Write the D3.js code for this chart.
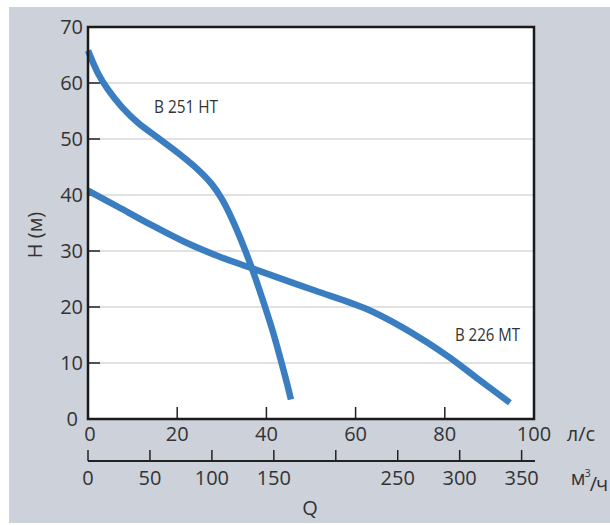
<!DOCTYPE html>
<html>
<head>
<meta charset="utf-8">
<script src="https://cdn.jsdelivr.net/npm/d3@7"></script>
<style>
  body { margin: 0; background: #fff; }
  text { font-family: "Open Sans", sans-serif; fill: #333; }
</style>
</head>
<body>
<svg id="chart" width="610" height="525"></svg>
<script>
// pump curves, flow in l/s, head in m
const b251Flow = [0, 2.2, 4.5, 7.6, 11.2, 15.7, 20.2, 24.7, 27.8, 30.0, 32.3, 34.5, 36.8, 39.0, 41.3, 43.0, 44.6, 45.5];
const b251Head = [65.8, 61.8, 58.8, 55.7, 52.9, 50.2, 47.5, 44.5, 41.9, 39.3, 35.7, 31.6, 26.8, 21.7, 16.0, 11.2, 6.4, 3.5];
const b226Flow = [0, 6.7, 14.3, 21.7, 29.1, 36.8, 44.2, 51.0, 62.6, 70.0, 76.0, 81.2, 87.2, 94.6];
const b226Head = [40.8, 37.9, 34.6, 31.6, 29.1, 26.9, 24.8, 22.9, 19.6, 16.6, 13.7, 10.9, 7.3, 2.9];

const headTicks = [0, 10, 20, 30, 40, 50, 60, 70];
const lsTicks = [0, 20, 40, 60, 80, 100];
const m3Ticks = [0, 50, 100, 150, 200, 250, 300, 350];
const m3Labels = ["0", "50", "100", "150", "", "250", "300", "350"];

const svg = d3.select("#chart");
const blue = "#3a7dc0";
const fs = 20;

// grey panel
svg.append("rect").attr("x", 9).attr("y", 7).attr("width", 601).attr("height", 516).attr("fill", "#cdd1da");

const x = d3.scaleLinear().domain([0, 100]).range([88, 534]);
const xm3 = d3.scaleLinear().domain([0, 360]).range([88, 534]);
const y = d3.scaleLinear().domain([0, 70]).range([419, 27]);

svg.append("rect")
  .attr("x", x(0)).attr("y", y(70))
  .attr("width", x(100) - x(0)).attr("height", y(0) - y(70))
  .attr("fill", "#fff");

// grid lines
svg.selectAll(".grid").data(headTicks.filter(d => d > 0 && d < 70))
  .enter().append("line")
  .attr("x1", x(0)).attr("x2", x(100))
  .attr("y1", d => y(d)).attr("y2", d => y(d))
  .attr("stroke", "#c4c4c4").attr("stroke-width", 1.2);

// small ticks inside on left
svg.selectAll(".ytick").data(headTicks.filter(d => d > 0 && d < 70))
  .enter().append("line")
  .attr("x1", x(0)).attr("x2", x(0) + 12)
  .attr("y1", d => y(d)).attr("y2", d => y(d))
  .attr("stroke", "#222").attr("stroke-width", 1.5);

// small ticks inside on bottom
svg.selectAll(".xtick").data(lsTicks.filter(d => d > 0 && d < 100))
  .enter().append("line")
  .attr("x1", d => x(d)).attr("x2", d => x(d))
  .attr("y1", y(0)).attr("y2", y(0) - 12)
  .attr("stroke", "#222").attr("stroke-width", 1.5);

// y labels
svg.selectAll(".ylab").data(headTicks)
  .enter().append("text")
  .attr("x", d => d == 0 ? 78 : 83).attr("y", d => y(d))
  .attr("dy", "0.35em")
  .attr("text-anchor", "end")
  .attr("font-size", fs)
  .text(d => d);

// l/s labels
svg.selectAll(".xlab").data(lsTicks)
  .enter().append("text")
  .attr("x", d => x(d) + (d == 0 ? 2 : 0)).attr("y", 434)
  .attr("dy", "0.35em")
  .attr("text-anchor", "middle")
  .attr("font-size", fs)
  .text(d => d);
svg.append("text").attr("x", 581).attr("y", 434).attr("dy", "0.35em")
  .attr("text-anchor", "middle").attr("font-size", fs).text("л/с");

// m3/h axis
svg.append("line")
  .attr("x1", xm3(0)).attr("x2", 535)
  .attr("y1", 461).attr("y2", 461)
  .attr("stroke", "#222").attr("stroke-width", 2);
svg.selectAll(".m3tick").data(m3Ticks)
  .enter().append("line")
  .attr("x1", d => xm3(d)).attr("x2", d => xm3(d))
  .attr("y1", 461).attr("y2", 450)
  .attr("stroke", "#222").attr("stroke-width", 1.5);
svg.selectAll(".m3lab").data(m3Ticks)
  .enter().append("text")
  .attr("x", d => xm3(d)).attr("y", 478)
  .attr("dy", "0.35em")
  .attr("text-anchor", "middle")
  .attr("font-size", fs)
  .text((d, i) => m3Labels[i]);
const unit = svg.append("text").attr("x", 589).attr("y", 478).attr("dy", "0.35em")
  .attr("text-anchor", "middle").attr("font-size", fs).attr("letter-spacing", -1);
unit.append("tspan").text("м");
unit.append("tspan").attr("font-size", 11).attr("dy", "-0.7em").text("3");
unit.append("tspan").attr("dy", "0.7em").text("/ч");

// axis titles
svg.append("text").attr("x", 310).attr("y", 508).attr("dy", "0.35em")
  .attr("text-anchor", "middle").attr("font-size", fs).text("Q");
svg.append("text")
  .attr("transform", "translate(35,235) rotate(-90)")
  .attr("dy", "0.35em")
  .attr("text-anchor", "middle").attr("font-size", fs).text("H (м)");

// curves
const line = d3.line()
  .x(d => x(d[0])).y(d => y(d[1]))
  .curve(d3.curveCatmullRom);

svg.append("path")
  .datum(b251Flow.map((f, i) => [f, b251Head[i]]))
  .attr("d", line)
  .attr("fill", "none").attr("stroke", blue).attr("stroke-width", 6.5);
svg.append("path")
  .datum(b226Flow.map((f, i) => [f, b226Head[i]]))
  .attr("d", line)
  .attr("fill", "none").attr("stroke", blue).attr("stroke-width", 6.5);

// frame
svg.append("rect")
  .attr("x", x(0)).attr("y", y(70))
  .attr("width", x(100) - x(0)).attr("height", y(0) - y(70))
  .attr("fill", "none").attr("stroke", "#1a1a1a").attr("stroke-width", 2.5);

// curve labels
svg.append("text").attr("x", 154).attr("y", 107).attr("dy", "0.35em")
  .attr("font-size", 18).attr("textLength", 64).attr("lengthAdjust", "spacingAndGlyphs")
  .text("B 251 HT");
svg.append("text").attr("x", 455).attr("y", 335).attr("dy", "0.35em")
  .attr("font-size", 18).attr("textLength", 65).attr("lengthAdjust", "spacingAndGlyphs")
  .text("B 226 MT");
</script>
</body>
</html>
